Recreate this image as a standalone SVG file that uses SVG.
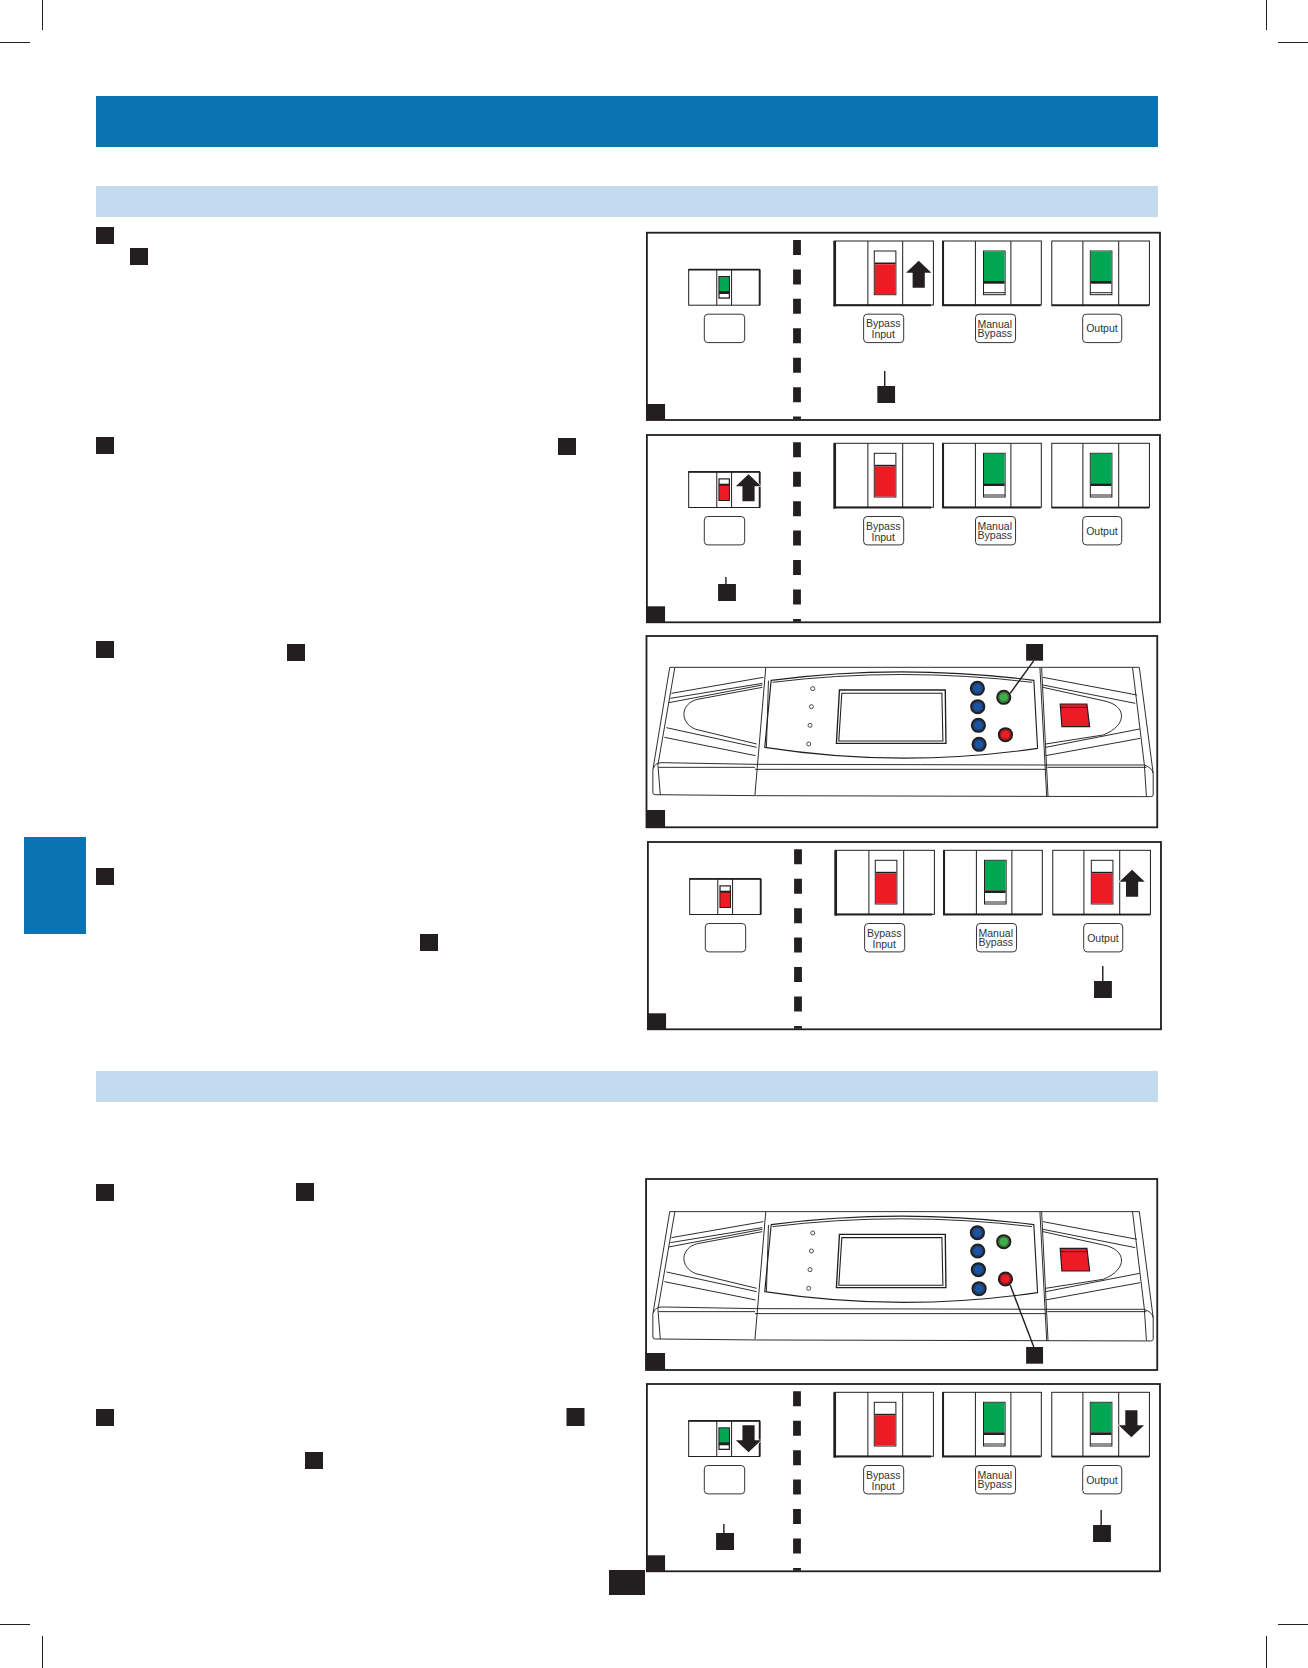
<svg xmlns="http://www.w3.org/2000/svg" xmlns:xlink="http://www.w3.org/1999/xlink" width="1308" height="1668" viewBox="0 0 1308 1668">
<style>
.k{fill:#231f20}
.band{fill:#0a73b0}
.sub{fill:#c3daee}
.crop{stroke:#231f20;stroke-width:1;fill:none}
.frame{fill:#fff;stroke:#231f20;stroke-width:1.8}
.sw{fill:#fff;stroke:#231f20;stroke-width:1}
.hv{stroke:#231f20;fill:none}
.lbl{fill:#fff;stroke:#231f20;stroke-width:.9}
.t{font-family:"Liberation Sans",Arial,sans-serif;font-size:10.4px;fill:#333;text-anchor:middle}
.leader{stroke:#231f20;stroke-width:1.4;fill:none}
.dash{stroke:#231f20;stroke-width:7.7;stroke-dasharray:15 14.43;fill:none}
.dl{fill:none;stroke:#231f20;stroke-width:2.8}
.ds{fill:none;stroke:#231f20;stroke-width:3.4}
.blue{fill:#1c54a4;stroke:#231f20;stroke-width:6}
.gr{fill:#41ad49;stroke:#231f20;stroke-width:6}
.rd{fill:#ed1c24;stroke:#231f20;stroke-width:6}
.ring{fill:none;stroke:#231f20;stroke-width:1.6}
.led{fill:#fff;stroke:#333;stroke-width:2.6}
.ar{fill:#231f20;stroke:#fff;stroke-width:1.2;paint-order:stroke}
</style>
<defs>
<g id="thumbG"><rect class="sw" x="0" y="0" width="21.3" height="43.7"/><rect x=".5" y=".5" width="20.3" height="29.5" fill="#00a651"/><rect class="k" x=".5" y="30" width="20.3" height="2.7"/><path class="hv" d="M0 41.7H21.3"/></g>
<g id="thumbR"><rect class="sw" x="0" y="0" width="21.3" height="43.7"/><rect class="k" x=".5" y="11.5" width="20.3" height="1.8"/><rect x=".5" y="13.3" width="20.3" height="29.9" fill="#ed1c24"/></g>
<g id="tinyG"><rect class="k" x="0" y="0" width="11.4" height="22.7"/><rect x="1" y="1" width="9.4" height="14" fill="#00a651"/><rect x="1.2" y="18" width="9" height="3.4" fill="#fff"/></g>
<g id="tinyR"><rect class="k" x="0" y="0" width="11.4" height="22.7"/><rect x="1.2" y="1.2" width="9" height="4.2" fill="#fff"/><rect x="1" y="7.4" width="9.4" height="14.3" fill="#ed1c24"/></g>
<polygon id="arrow" class="ar" points="0,0 12.5,12 6,12 6,27 -6,27 -6,12 -12.5,12"/>
<g id="base">
<rect class="frame" x="646.8" y="232.7" width="505.9" height="187.3"/>
<path class="dash" d="M794.8 240V419.5"/>
<rect class="k" x="646.7" y="404" width="18" height="16"/>
<rect class="sw" x="688" y="269.6" width="70" height="35.6"/>
<path class="hv" stroke-width="1.8" d="M687.7 269.6H758.3M758 269.6V305.3"/>
<path class="hv" stroke-width="1" d="M715.7 269.6V305.3M730.3 269.6V305.3"/>
<rect class="lbl" x="703.4" y="314.2" width="39.8" height="28.4" rx="3.5"/>
<rect class="sw" x="831.5" y="241" width="97.8" height="64"/>
<path class="hv" stroke-width="2.6" d="M832 241V306.3"/><path class="hv" stroke-width="2" d="M831 305.3H927"/>
<path class="hv" stroke-width="1" d="M864.7 241V305.3M899 241V305.3"/>
<use xlink:href="#thumbR" href="#thumbR" x="871" y="251"/>
<rect class="sw" x="938.5" y="241" width="97.2" height="64"/>
<path class="hv" stroke-width="2" d="M938.8 241V306M938 305.3H1035"/>
<path class="hv" stroke-width="1" d="M970.7 241V305.3M1005.7 241V305.3"/>
<use xlink:href="#thumbG" href="#thumbG" x="978.7" y="251"/>
<rect class="sw" x="1046" y="241" width="96.3" height="64"/>
<path class="hv" stroke-width="1.7" d="M1045.7 305.3H1142"/>
<path class="hv" stroke-width="1" d="M1076.7 241V305.3M1112 241V305.3"/>
<rect class="lbl" x="860.5" y="314.2" width="39.5" height="28.4" rx="3.5"/>
<text class="t" x="879.8" y="327.3">Bypass</text><text class="t" x="879.8" y="338.3">Input</text>
<rect class="lbl" x="970.8" y="314.2" width="39.5" height="28.4" rx="3.5"/>
<text class="t" x="989.8" y="327.6">Manual</text><text class="t" x="989.8" y="337">Bypass</text>
<rect class="lbl" x="1076.5" y="314.2" width="38.5" height="28.4" rx="3.5"/>
<text class="t" x="1095.5" y="332.3">Output</text>
</g>
<g id="device">
<path class="dl" d="M88 112H1477L1518 430V495Q1518 500 1510 500L345 497 45 494Q38 494 38 488V420L88 112"/>
<path class="dl" d="M103 113L53 405 60 494M1457 113L1492 405 1498 499"/>
<path class="dl" d="M40 415Q44 398 65 398L340 403 830 404 1200 405H1490Q1515 412 1518 430"/>
<path class="dl" d="M55 412H340M340 418 H1200M1205 412H1498"/>
<path class="dl" d="M372 113L340 495M1183 113L1203 500M1188 113L1207 500"/>
<path class="dl" d="M93 190L365 142M85 218L362 165M90 205L362 160"/>
<path class="dl" d="M362 172L170 208C120 220 115 278 165 298L345 342"/>
<path class="dl" d="M78 293L345 352M72 322L342 377"/>
<path class="dl" d="M1192 142L1470 195M1192 165L1465 220M1192 172L1370 212C1440 225 1445 285 1370 315L1200 342M1200 352L1478 297M1200 377L1480 325"/>
<polygon points="1243,222 1322,222 1330,290 1248,290" fill="#ed1c24" stroke="#231f20" stroke-width="3.5"/>
<path class="dl" d="M1245 232H1323"/>
<path class="ds" d="M388 151Q770 100 1165 151L1176 355Q770 415 369 352Z"/>
<path class="dl" d="M392 157Q770 110 1160 157"/>
<path class="dl" d="M380 152L374 352"/>
<polygon points="590,180 903,180 905,340 581,340" fill="#fff" stroke="#231f20" stroke-width="4"/>
<polygon points="597,190 893,190 896,333 588,333" fill="#fff" stroke="#231f20" stroke-width="3.2"/>
<circle class="led" cx="511" cy="176" r="6"/><circle class="led" cx="507" cy="230" r="6"/><circle class="led" cx="503" cy="286" r="6"/><circle class="led" cx="499" cy="342" r="6"/>
<circle class="blue" cx="998" cy="175" r="19.5"/><circle class="ring" cx="998" cy="175" r="14"/>
<circle class="blue" cx="999" cy="230" r="19.5"/><circle class="ring" cx="999" cy="230" r="14"/>
<circle class="blue" cx="1001" cy="286" r="19.5"/><circle class="ring" cx="1001" cy="286" r="14"/>
<circle class="blue" cx="1003" cy="343" r="19.5"/><circle class="ring" cx="1003" cy="343" r="14"/>
<circle class="gr" cx="1076" cy="202" r="19.5"/><circle class="ring" cx="1076" cy="202" r="14"/>
<circle class="rd" cx="1081" cy="314" r="19.5"/><circle class="ring" cx="1081" cy="314" r="14"/>
</g>
</defs>
<rect width="1308" height="1668" fill="#fff"/>
<g id="crop-marks">
<path class="crop" d="M42.5 0V30M0 42.5H30M1266.5 0V30M1278 42.5H1308M0 1624.5H30M42.5 1636V1668M1266.5 1636V1668M1278 1624.5H1308"/>
</g>
<g id="bands">
<rect class="band" x="96" y="96" width="1062" height="51"/>
<rect class="sub" x="96" y="186" width="1062" height="31"/>
<rect class="sub" x="96" y="1071" width="1062" height="31"/>
<rect class="band" x="24" y="837" width="62" height="97"/>
<rect class="k" x="609" y="1570" width="36" height="25"/>
</g>
<g id="step-markers">
<rect class="k" x="96" y="227" width="18" height="17"/><rect class="k" x="130" y="248" width="18" height="17"/>
<rect class="k" x="96" y="437" width="18" height="17"/><rect class="k" x="558" y="438" width="18" height="17"/>
<rect class="k" x="96" y="641" width="18" height="17"/><rect class="k" x="287" y="644" width="18" height="17"/>
<rect class="k" x="96" y="868" width="18" height="17"/><rect class="k" x="420" y="934" width="18" height="17"/>
<rect class="k" x="96" y="1184" width="18" height="17"/><rect class="k" x="296" y="1183" width="18" height="18"/>
<rect class="k" x="96" y="1409" width="18" height="17"/><rect class="k" x="566.5" y="1408" width="18" height="18"/>
<rect class="k" x="305" y="1452" width="18" height="17"/>
</g>
<g id="panel-1" transform="matrix(1.0142 0 0 1 -9.088 0)">
<use xlink:href="#base" href="#base"/>
<use xlink:href="#tinyG" href="#tinyG" x="717.3" y="276"/>
<use xlink:href="#thumbG" href="#thumbG" x="1084" y="251"/>
<use xlink:href="#arrow" href="#arrow" x="914.8" y="260.7"/>
<rect class="k" x="874" y="386" width="17.5" height="17"/>
</g>
<g id="panel-2" transform="matrix(1.0142 0 0 1 -9.088 202.3)">
<use xlink:href="#base" href="#base"/>
<use xlink:href="#tinyR" href="#tinyR" x="717.3" y="276"/>
<use xlink:href="#thumbG" href="#thumbG" x="1084" y="251"/>
<use xlink:href="#arrow" href="#arrow" x="747" y="272"/>
<rect class="k" x="717" y="381.7" width="17.6" height="17"/>
</g>
<g id="panel-3" transform="matrix(1.0142 0 0 1 -9.088 0)">
<rect class="frame" x="646.4" y="636" width="503.6" height="191.3"/>
<use xlink:href="#device" href="#device" transform="translate(640 630) scale(.33333)"/>
<rect class="k" x="646" y="810" width="18.7" height="17.3"/>
<rect class="k" x="1020.7" y="644" width="16.7" height="16.7"/>
</g>
<g id="panel-4" transform="matrix(1.0142 0 0 1 -8.088 609.3)">
<use xlink:href="#base" href="#base"/>
<use xlink:href="#tinyR" href="#tinyR" x="717.3" y="276"/>
<use xlink:href="#thumbR" href="#thumbR" x="1084" y="251"/>
<use xlink:href="#arrow" href="#arrow" x="1124.2" y="260.4"/>
<rect class="k" x="1086.7" y="371.7" width="17.6" height="17"/>
</g>
<g id="panel-5" transform="matrix(1.0142 0 0 1 -9.088 0)">
<rect class="frame" x="646" y="1179" width="504" height="191"/>
<use xlink:href="#device" href="#device" transform="translate(640 1174.3) scale(.33333)"/>
<rect class="k" x="645.3" y="1353" width="19.4" height="17"/>
<rect class="k" x="1020.7" y="1347" width="16.7" height="16.7"/>
</g>
<g id="panel-6" transform="matrix(1.0142 0 0 1 -9.088 1151.3)">
<use xlink:href="#base" href="#base"/>
<use xlink:href="#tinyG" href="#tinyG" x="717.3" y="276"/>
<use xlink:href="#thumbG" href="#thumbG" x="1084" y="251"/>
<use xlink:href="#arrow" href="#arrow" transform="translate(747 301) scale(1 -1)"/>
<use xlink:href="#arrow" href="#arrow" transform="translate(1124.5 286) scale(1 -1)"/>
<rect class="k" x="715" y="381.7" width="17.7" height="17"/>
<rect class="k" x="1086.7" y="373.7" width="17.6" height="17"/>
</g>
<g id="connectors" transform="matrix(1.0142 0 0 1 -9.088 0)">
<path class="leader" d="M881.3 371V386"/>
<path class="leader" d="M724.7 577V584"/>
<path class="leader" d="M1096.3 966V981"/>
<path class="leader" d="M722.7 1524V1533"/>
<path class="leader" d="M1094.7 1510V1525"/>
<path class="leader" stroke-width="1.6" d="M1028.3 660.7L1005 693.3"/>
<path class="leader" stroke-width="1.6" d="M1005 1285L1028.3 1347"/>
</g>
</svg>
